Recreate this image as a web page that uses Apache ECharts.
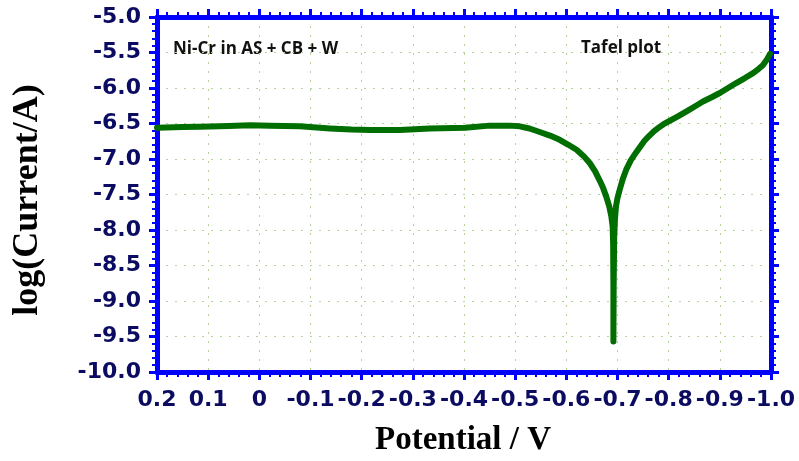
<!DOCTYPE html>
<html>
<head>
<meta charset="utf-8">
<script src="https://cdn.jsdelivr.net/npm/echarts@6/dist/echarts.min.js"></script>
<style>
  html, body { margin: 0; padding: 0; background: #fff; }
  #tafel-chart { width: 799px; height: 461px; }
</style>
</head>
<body>
<div id="tafel-chart"></div>
<script>
const potential = [
  0.2, 0.15, 0.116, 0.06, 0.018, -0.021, -0.079, -0.138, -0.18, -0.216, -0.275, -0.333,
  -0.402, -0.45, -0.489, -0.509, -0.528, -0.548, -0.568, -0.587, -0.604, -0.62, -0.634,
  -0.646, -0.656, -0.665, -0.672, -0.678, -0.684, -0.688, -0.6905, -0.6915, -0.692,
  -0.692, -0.6925, -0.6935, -0.695, -0.697, -0.700, -0.704, -0.710, -0.717, -0.726,
  -0.737, -0.744, -0.752, -0.761, -0.771, -0.781, -0.790, -0.800, -0.818, -0.835, -0.851,
  -0.867, -0.884, -0.900, -0.916, -0.932, -0.949, -0.965, -0.976, -0.984, -0.992, -0.998
]
const logCurrent = [
  -6.56, -6.55, -6.545, -6.535, -6.525, -6.53, -6.54, -6.57, -6.585, -6.59, -6.59, -6.57,
  -6.56, -6.53, -6.53, -6.54, -6.57, -6.62, -6.67, -6.73, -6.80, -6.87, -6.96,
  -7.06, -7.17, -7.30, -7.41, -7.53, -7.67, -7.81, -7.95, -8.2, -8.8,
  -9.57, -8.8, -8.1, -7.85, -7.67, -7.55, -7.44, -7.29, -7.15, -7.02,
  -6.90, -6.83, -6.75, -6.68, -6.61, -6.555, -6.51, -6.47, -6.40, -6.33, -6.26,
  -6.19, -6.13, -6.07, -6.00, -5.93, -5.86, -5.79, -5.73, -5.68, -5.60, -5.52
]

const xTickLabels = ['0.2', '0.1', '0', '-0.1', '-0.2', '-0.3', '-0.4', '-0.5', '-0.6', '-0.7', '-0.8', '-0.9', '-1.0']
const yTickLabels = ['-5.0', '-5.5', '-6.0', '-6.5', '-7.0', '-7.5', '-8.0', '-8.5', '-9.0', '-9.5', '-10.0']

const xTitle = 'Potential / V'
const yTitle = 'log(Current/A)'
const noteLeft = 'Ni-Cr in AS + CB + W'
const noteRight = 'Tafel plot'

const frameBlue = '#0000ff'
const labelNavy = '#0b0b62'
const curveGreen = '#006e00'

const tickLabelStyle = {
  fontFamily: 'DejaVu Sans',
  fontWeight: 'bold',
  fontSize: 22,
  color: labelNavy
}

const frameAxis = (extra) => Object.assign({
  type: 'value',
  axisLine: { show: true, onZero: false, lineStyle: { color: frameBlue, width: 5 } },
  axisTick: { show: true, inside: false, length: 8, lineStyle: { color: frameBlue, width: 3 } },
  minorTick: { show: true, splitNumber: 5, length: 5, lineStyle: { color: frameBlue, width: 2 } },
  splitLine: { show: false }
}, extra)

const gridDots = {
  show: true,
  lineStyle: { color: '#b4d29c', width: 1, type: [2, 7] }
}

const chart = echarts.init(document.getElementById('tafel-chart'))

const option = {
  animation: false,
  backgroundColor: '#ffffff',
  grid: { left: 157, right: 28, top: 17, bottom: 89 },
  xAxis: [
    frameAxis({
      min: -1.0, max: 0.2, interval: 0.1, inverse: true, position: 'bottom',
      splitLine: gridDots,
      axisLabel: Object.assign({
        margin: 17,
        formatter: (v) => xTickLabels[Math.round((0.2 - v) / 0.1)]
      }, tickLabelStyle)
    }),
    frameAxis({
      min: -1.0, max: 0.2, interval: 0.1, inverse: true, position: 'top',
      axisLabel: { show: false }
    })
  ],
  yAxis: [
    frameAxis({
      min: -10, max: -5, interval: 0.5, position: 'left',
      splitLine: gridDots,
      axisLabel: Object.assign({
        margin: 16,
        formatter: (v) => yTickLabels[Math.round((-5 - v) / 0.5)]
      }, tickLabelStyle)
    }),
    frameAxis({
      min: -10, max: -5, interval: 0.5, position: 'right',
      axisLabel: { show: false }
    })
  ],
  graphic: [
    {
      type: 'text', left: 173, top: 41,
      style: { text: noteLeft, font: 'bold 17px "Open Sans"', fill: '#111' }
    },
    {
      type: 'text', left: 581, top: 40,
      style: { text: noteRight, font: 'bold 17px "Open Sans"', fill: '#111' }
    },
    {
      type: 'text', x: 463, y: 440,
      style: { text: xTitle, font: 'bold 33px "Liberation Serif"', fill: '#000', align: 'center', verticalAlign: 'middle' }
    },
    {
      type: 'text', x: 28, y: 200, rotation: Math.PI / 2,
      style: { text: yTitle, font: 'bold 36px "Liberation Serif"', fill: '#000', align: 'center', verticalAlign: 'middle' }
    }
  ],
  series: [
    {
      type: 'line',
      xAxisIndex: 0,
      yAxisIndex: 0,
      data: potential.map((p, i) => [p, logCurrent[i]]),
      showSymbol: false,
      symbol: 'none',
      lineStyle: { color: curveGreen, width: 6, cap: 'round', join: 'round' }
    }
  ]
}

chart.setOption(option)
</script>
</body>
</html>
